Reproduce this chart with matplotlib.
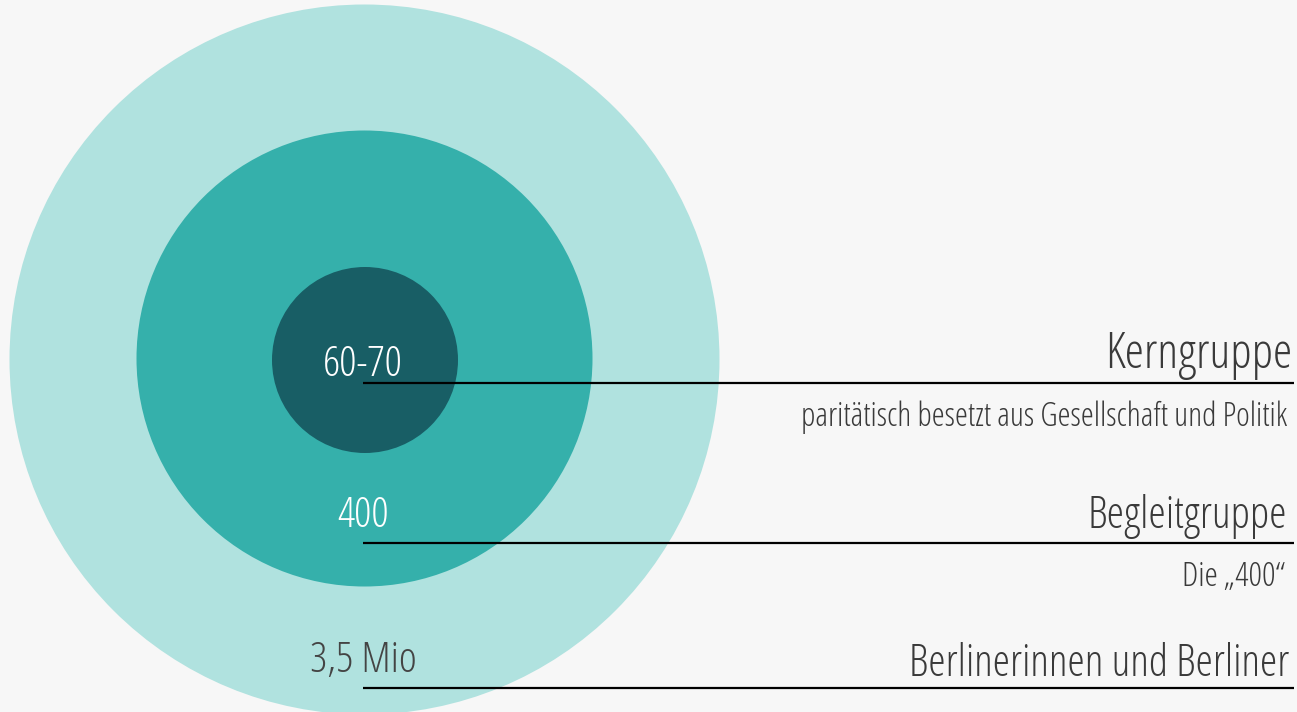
import matplotlib
matplotlib.use("Agg")
import matplotlib.pyplot as plt
from matplotlib import font_manager as fm
from matplotlib.patches import Circle

# data
groups = ['Berlinerinnen und Berliner', 'Begleitgruppe', 'Kerngruppe']
counts = ['3,5 Mio', '400', '60-70']
subtitles = ['', 'Die \u201e400\u201c', 'parit\u00e4tisch besetzt aus Gesellschaft und Politik']

# layout (pixels)
radii = [355, 228, 93]
centers = [(364.5, 359.5), (364.5, 358.5), (365, 360)]
colors = ['#b0e2df', '#35b0ab', '#185e65']
count_colors = ['#444444', 'white', 'white']
line_y = [688, 543, 383]
count_y = [672, 527, 376]
group_x = [1289, 1287, 1292]
group_y = [676, 528, 368]
group_size = [31.7, 31.9, 35.3]
sub_x = [None, 1285, 1287]
sub_y = [None, 586, 426]
sub_size = [None, 24.2, 23.7]

# condensed light font
cond = [f.fname for f in fm.fontManager.ttflist if 'CondLight.ttf' in f.fname and 'Italic' not in f.fname]
if cond:
    fp = fm.FontProperties(fname=cond[0])
else:
    fp = fm.FontProperties(family='Open Sans', weight='light')

fig = plt.figure(figsize=(12.97, 7.12), dpi=100, facecolor='#f7f7f7')
ax = fig.add_axes([0, 0, 1, 1])
ax.set_facecolor('#f7f7f7')
ax.set_xlim(0, 1297)
ax.set_ylim(712, 0)
ax.set_aspect('equal')
ax.axis('off')

for r, c, col in zip(radii, centers, colors):
    ax.add_patch(Circle(c, r, color=col, lw=0))

for i in range(3):
    ax.plot([363, 1294], [line_y[i], line_y[i]], color='black', lw=1.6, solid_capstyle='butt')
    ax.text(363, count_y[i], counts[i], fontproperties=fp, fontsize=31, color=count_colors[i],
            ha='center', va='baseline')
    ax.text(group_x[i], group_y[i], groups[i], fontproperties=fp, fontsize=group_size[i], color='#3a3a3a',
            ha='right', va='baseline')
    if sub_y[i]:
        ax.text(sub_x[i], sub_y[i], subtitles[i], fontproperties=fp, fontsize=sub_size[i], color='#3a3a3a',
                ha='right', va='baseline')

fig.savefig('out.png', facecolor=fig.get_facecolor())
